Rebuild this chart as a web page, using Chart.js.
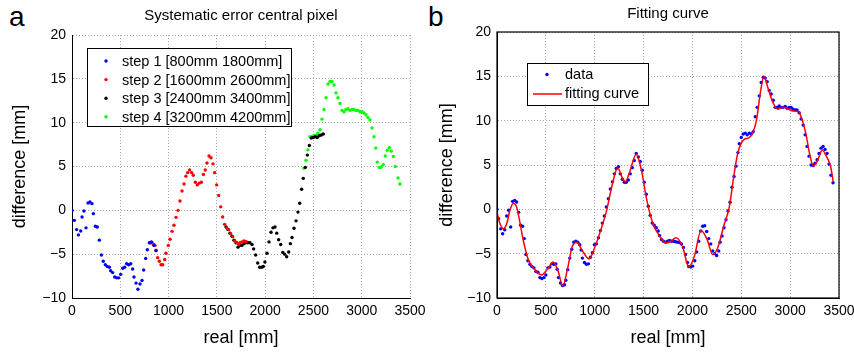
<!DOCTYPE html>
<html>
<head>
<meta charset="utf-8">
<script src="https://cdn.jsdelivr.net/npm/chart.js@4.4.1/dist/chart.umd.min.js"></script>
<style>
  body { margin: 0; background: #fff; width: 854px; height: 353px; overflow: hidden; position: relative; font-family: "Liberation Sans", Arial, sans-serif; }
  canvas { position: absolute; top: 0; }
  #chartA { left: 0; }
  #chartB { left: 427px; }
  .tag { position: absolute; top: 3px; font-size: 28px; line-height: 28px; color: #000; }
</style>
</head>
<body>
<div class="tag" style="left:9px">a</div>
<div class="tag" style="left:428px">b</div>
<canvas id="chartA" width="427" height="353"></canvas>
<canvas id="chartB" width="427" height="353"></canvas>
<script>
// 축 설정
const xTicks = [0, 500, 1000, 1500, 2000, 2500, 3000, 3500];
const yTicks = [-10, -5, 0, 5, 10, 15, 20];

// 패널 a: 단계별 측정 [real mm, difference mm]
const step1 = [[3,0.0],[24,-1.14],[48,-2.2],[66,-2.8],[90,-2.36],[104,-0.76],[124,-0.08],[145,-2.0],[166,0.83],[186,0.95],[207,0.76],[221,-0.38],[242,-1.82],[262,-1.9],[283,-3.4],[304,-5.1],[324,-5.8],[345,-6.2],[366,-6.4],[387,-6.5],[400,-6.9],[421,-7.1],[442,-7.6],[463,-7.7],[483,-7.7],[504,-7.3],[525,-6.6],[545,-6.5],[566,-6.1],[587,-6.2],[608,-6.1],[628,-6.7],[642,-7.6],[663,-8.3],[683,-9.0],[704,-8.4],[725,-8.0],[742,-6.8],[763,-5.5],[780,-4.5],[800,-3.7],[822,-3.6],[848,-4.0],[870,-4.6]];
const step2 = [[815,-3.72],[828,-3.65],[846,-3.9],[860,-4.0],[870,-4.56],[887,-5.4],[904,-5.8],[922,-6.2],[939,-6.2],[960,-5.6],[973,-4.9],[997,-4.0],[1015,-3.3],[1036,-2.4],[1056,-1.7],[1077,-0.8],[1098,0.0],[1118,1.06],[1139,2.2],[1160,3.0],[1180,3.9],[1198,4.3],[1218,4.6],[1239,4.3],[1256,4.0],[1277,3.2],[1298,2.9],[1318,3.1],[1339,3.2],[1360,4.1],[1380,4.6],[1398,5.4],[1419,6.2],[1439,6.0],[1460,5.3],[1477,4.3],[1498,2.9],[1519,1.7],[1540,0.4],[1560,-0.76],[1581,-1.6],[1602,-2.0],[1622,-2.2],[1643,-2.66],[1664,-3.0],[1685,-3.5],[1705,-3.65],[1726,-3.9],[1740,-3.7],[1760,-3.6],[1781,-3.5],[1802,-3.55]];
const step3 = [[1595,-1.9],[1616,-2.2],[1636,-2.6],[1657,-2.96],[1677,-3.4],[1698,-3.7],[1719,-4.2],[1740,-4.0],[1760,-4.0],[1781,-3.8],[1802,-3.7],[1822,-3.7],[1843,-3.7],[1864,-3.9],[1881,-4.4],[1902,-5.1],[1923,-6.0],[1943,-6.5],[1964,-6.5],[1981,-6.4],[1998,-5.9],[2019,-4.9],[2040,-3.6],[2061,-2.5],[2081,-2.0],[2102,-1.9],[2120,-2.6],[2140,-3.35],[2161,-3.9],[2182,-4.8],[2202,-5.0],[2223,-5.3],[2244,-4.75],[2261,-3.8],[2278,-3.1],[2299,-2.05],[2320,-1.2],[2340,-0.2],[2358,0.8],[2378,2.4],[2395,3.65],[2416,4.9],[2437,6.3],[2458,7.4],[2478,8.25],[2499,8.3],[2520,8.4],[2540,8.3],[2561,8.5],[2582,8.6],[2602,8.7]];
const step4 = [[2402,4.8],[2423,5.7],[2444,6.9],[2465,8.4],[2485,8.4],[2506,8.55],[2527,8.55],[2547,8.8],[2568,9.2],[2589,10.4],[2609,11.5],[2630,12.85],[2651,14.4],[2672,14.7],[2692,14.7],[2713,14.3],[2734,13.4],[2754,12.85],[2775,12.2],[2796,11.4],[2816,11.25],[2837,11.5],[2858,11.6],[2879,11.4],[2899,11.5],[2920,11.5],[2941,11.4],[2961,11.4],[2982,11.25],[3003,11.25],[3024,11.1],[3044,10.9],[3065,10.6],[3086,10.3],[3107,9.4],[3127,8.4],[3145,7.1],[3161,5.5],[3182,4.9],[3203,4.95],[3223,5.2],[3244,6.2],[3265,6.85],[3286,7.15],[3306,6.75],[3327,6.15],[3348,5.0],[3376,3.7],[3396,3.0]];
const stepLabels = ['step 1 [800mm 1800mm]', 'step 2 [1600mm 2600mm]', 'step 3 [2400mm 3400mm]', 'step 4 [3200mm 4200mm]'];

// 패널 b: 이어붙인 데이터와 피팅 곡선
const dataB = [[0,0.0],[17,-1.06],[38,-2.2],[58,-2.76],[79,-2.3],[99,-0.75],[119,-0.1],[140,-2.0],[160,0.9],[181,1.0],[201,0.83],[221,-0.34],[242,-1.8],[262,-1.9],[279,-3.3],[296,-5.1],[316,-5.8],[337,-6.2],[357,-6.45],[378,-6.6],[398,-7.0],[418,-7.1],[439,-7.7],[459,-7.8],[480,-7.7],[500,-7.4],[520,-6.6],[541,-6.5],[561,-6.15],[582,-6.2],[602,-6.15],[616,-6.75],[629,-7.7],[650,-8.3],[670,-8.6],[691,-8.5],[704,-8.0],[724,-6.8],[745,-5.5],[765,-4.5],[786,-3.7],[806,-3.6],[827,-3.7],[847,-4.0],[861,-4.6],[874,-5.5],[895,-6.0],[915,-6.2],[936,-6.15],[956,-5.4],[976,-4.9],[997,-4.0],[1017,-3.9],[1038,-3.2],[1058,-2.4],[1078,-1.55],[1099,-0.75],[1119,0.27],[1140,1.2],[1160,2.3],[1181,3.1],[1201,4.0],[1221,4.6],[1242,4.8],[1262,4.0],[1283,3.4],[1303,3.06],[1323,3.06],[1344,3.3],[1364,4.0],[1385,4.7],[1405,5.5],[1425,6.3],[1446,5.9],[1466,5.4],[1487,4.4],[1507,3.06],[1528,1.7],[1548,0.34],[1568,-0.68],[1589,-1.55],[1609,-1.8],[1630,-2.07],[1650,-2.45],[1663,-2.95],[1684,-3.4],[1704,-3.6],[1725,-3.7],[1745,-3.6],[1765,-3.5],[1786,-3.6],[1806,-3.6],[1827,-3.66],[1847,-3.7],[1867,-3.74],[1888,-3.9],[1908,-4.3],[1929,-5.1],[1949,-6.0],[1962,-6.45],[1983,-6.5],[2003,-6.4],[2024,-5.8],[2044,-4.8],[2064,-3.6],[2085,-2.45],[2105,-1.9],[2126,-1.85],[2146,-2.5],[2167,-3.3],[2187,-3.9],[2208,-4.7],[2228,-5.0],[2248,-5.2],[2269,-4.7],[2283,-3.7],[2303,-3.0],[2323,-2.07],[2344,-1.17],[2364,-0.19],[2385,0.8],[2405,2.5],[2426,3.7],[2446,4.87],[2466,6.4],[2480,7.4],[2500,8.1],[2520,8.5],[2541,8.6],[2561,8.4],[2582,8.6],[2602,8.5],[2622,8.75],[2643,10.45],[2663,11.5],[2684,12.8],[2704,14.3],[2725,14.9],[2745,14.8],[2765,14.4],[2786,13.4],[2806,13.0],[2827,12.3],[2847,11.5],[2867,11.5],[2888,11.66],[2908,11.5],[2929,11.5],[2949,11.6],[2969,11.4],[2990,11.5],[3010,11.5],[3031,11.3],[3051,11.2],[3071,11.2],[3092,10.9],[3112,10.2],[3133,9.5],[3153,8.4],[3173,7.1],[3194,6.0],[3214,5.0],[3235,4.95],[3255,5.2],[3276,5.6],[3296,6.3],[3316,6.9],[3337,7.1],[3357,6.76],[3378,6.3],[3398,5.1],[3418,3.85],[3439,3.0]];
const fitB = [[0,-0.3],[30,-1.6],[65,-2.2],[100,-1.6],[135,0.0],[167,0.7],[200,0.3],[240,-1.8],[269,-3.5],[318,-5.6],[380,-6.7],[455,-7.4],[520,-6.7],[575,-5.95],[620,-6.8],[674,-8.6],[720,-6.8],[770,-4.2],[816,-3.7],[870,-4.6],[942,-5.6],[1000,-4.3],[1060,-2.4],[1120,-0.2],[1180,2.8],[1235,4.7],[1280,3.6],[1313,3.1],[1360,4.3],[1425,6.2],[1480,4.3],[1530,1.2],[1595,-1.6],[1663,-3.0],[1731,-3.8],[1780,-3.6],[1833,-3.2],[1902,-4.3],[1962,-6.5],[2020,-5.3],[2088,-2.4],[2150,-3.4],[2208,-5.1],[2260,-4.3],[2320,-1.9],[2378,0.3],[2420,3.5],[2463,6.3],[2500,7.5],[2530,7.9],[2582,8.1],[2620,8.7],[2656,10.1],[2700,13.5],[2731,15.0],[2770,13.8],[2820,12.15],[2871,11.3],[2922,11.5],[2970,11.4],[3024,11.1],[3085,11.0],[3120,10.2],[3160,8.6],[3200,6.2],[3238,4.87],[3280,5.5],[3330,6.7],[3370,6.0],[3415,4.8],[3439,3.2]];

const FONT = '"Liberation Sans", Arial, sans-serif';
const toXY = arr => arr.map(p => ({ x: p[0], y: p[1] }));

function dots(label, arr, color) {
    return {
        label, data: toXY(arr), showLine: false,
        pointRadius: 1.7, pointBorderWidth: 0,
        pointBackgroundColor: color, borderColor: color, backgroundColor: color
    };
}

// matlab 스타일 축 (점선 그리드)
function makeScales(yWidth) {
    const common = {
        type: 'linear',
        grid: { color: '#a8a8a8', lineWidth: 1, drawTicks: false },
        border: { display: true, color: '#000', width: 1, dash: [1, 2] },
        ticks: { color: '#000', font: { family: FONT, size: 14 } }
    };
    return {
        x: {
            ...common, min: 0, max: 3500,
            afterBuildTicks: s => { s.ticks = xTicks.map(v => ({ value: v })); },
            ticks: { ...common.ticks, padding: 5, maxRotation: 0, callback: v => String(v) },
            title: { display: true, text: 'real [mm]', color: '#000', font: { family: FONT, size: 18 }, padding: { top: 0, bottom: 4 } },
            afterFit: s => { s.height = 55; s.paddingRight = 0; s.paddingLeft = 0; }
        },
        y: {
            ...common, min: -10, max: 20,
            afterBuildTicks: s => { s.ticks = yTicks.map(v => ({ value: v })); },
            ticks: { ...common.ticks, padding: 6, callback: v => String(v).replace('-', '\u2212') },
            title: { display: true, text: 'difference [mm]', color: '#000', font: { family: FONT, size: 18 }, padding: { top: 9, bottom: 0 } },
            afterFit: s => { s.width = yWidth; }
        }
    };
}

// 범례 박스 직접 그리기
const legendA = {
    id: 'legendA',
    afterDraw(chart) {
        const { ctx, chartArea: a } = chart;
        const left = a.left + 15, top = a.top + 13;
        ctx.save();
        ctx.fillStyle = '#fff';
        ctx.fillRect(left, top, 204, 78);
        ctx.strokeStyle = '#000'; ctx.lineWidth = 1;
        ctx.strokeRect(left + 0.5, top + 0.5, 204, 78);
        ctx.font = '14.5px ' + FONT; ctx.textBaseline = 'middle';
        chart.data.datasets.forEach((ds, i) => {
            const y = top + 13 + i * 18.6;
            ctx.fillStyle = ds.pointBackgroundColor;
            ctx.beginPath(); ctx.arc(left + 19, y, 1.7, 0, Math.PI * 2); ctx.fill();
            ctx.fillStyle = '#000';
            ctx.fillText(ds.label, left + 35, y + 1);
        });
        ctx.restore();
    }
};

const legendB = {
    id: 'legendB',
    afterDraw(chart) {
        const { ctx, chartArea: a } = chart;
        const left = a.left + 30, top = a.top + 31;
        ctx.save();
        // 바깥 테두리 (box on)
        ctx.strokeStyle = '#000'; ctx.lineWidth = 1.2;
        ctx.strokeRect(a.left, a.top, a.right - a.left, a.bottom - a.top);
        ctx.fillStyle = '#fff';
        ctx.fillRect(left, top, 121, 42);
        ctx.lineWidth = 1;
        ctx.strokeRect(left + 0.5, top + 0.5, 121, 42);
        ctx.font = '14.5px ' + FONT; ctx.textBaseline = 'middle';
        const [d, f] = chart.data.datasets;
        ctx.fillStyle = d.pointBackgroundColor;
        ctx.beginPath(); ctx.arc(left + 20, top + 11.5, 1.7, 0, Math.PI * 2); ctx.fill();
        ctx.strokeStyle = f.borderColor; ctx.lineWidth = 1.5;
        ctx.beginPath(); ctx.moveTo(left + 6, top + 31); ctx.lineTo(left + 35, top + 31); ctx.stroke();
        ctx.fillStyle = '#000';
        ctx.fillText(d.label, left + 38, top + 12);
        ctx.fillText(f.label, left + 38, top + 31);
        ctx.restore();
    }
};

function baseOptions(title, yWidth, rightPad, titlePad) {
    return {
        responsive: false, animation: false, devicePixelRatio: 1,
        layout: { padding: { left: 0, right: rightPad, top: 0, bottom: 0 } },
        scales: makeScales(yWidth),
        plugins: {
            legend: { display: false },
            tooltip: { enabled: false },
            title: {
                display: true, text: title, fullSize: false, color: '#000',
                font: { family: FONT, size: 15, weight: 'normal' }, padding: titlePad
            }
        }
    };
}

new Chart(document.getElementById('chartA'), {
    type: 'scatter',
    data: {
        datasets: [
            dots(stepLabels[0], step1, '#0000ff'),
            dots(stepLabels[1], step2, '#ff0000'),
            dots(stepLabels[2], step3, '#000000'),
            dots(stepLabels[3], step4, '#00ff00')
        ]
    },
    options: baseOptions('Systematic error central pixel', 72, 17, { top: 7, bottom: 10 }),
    plugins: [legendA]
});

new Chart(document.getElementById('chartB'), {
    type: 'scatter',
    data: {
        datasets: [
            dots('data', dataB, '#0000ff'),
            {
                label: 'fitting curve', data: toXY(fitB), showLine: true,
                borderColor: '#ff0000', borderWidth: 1.5, pointRadius: 0,
                cubicInterpolationMode: 'monotone', order: -1
            }
        ]
    },
    options: baseOptions('Fitting curve', 70, 15, { top: 5, bottom: 9 }),
    plugins: [legendB]
});
</script>
</body>
</html>
